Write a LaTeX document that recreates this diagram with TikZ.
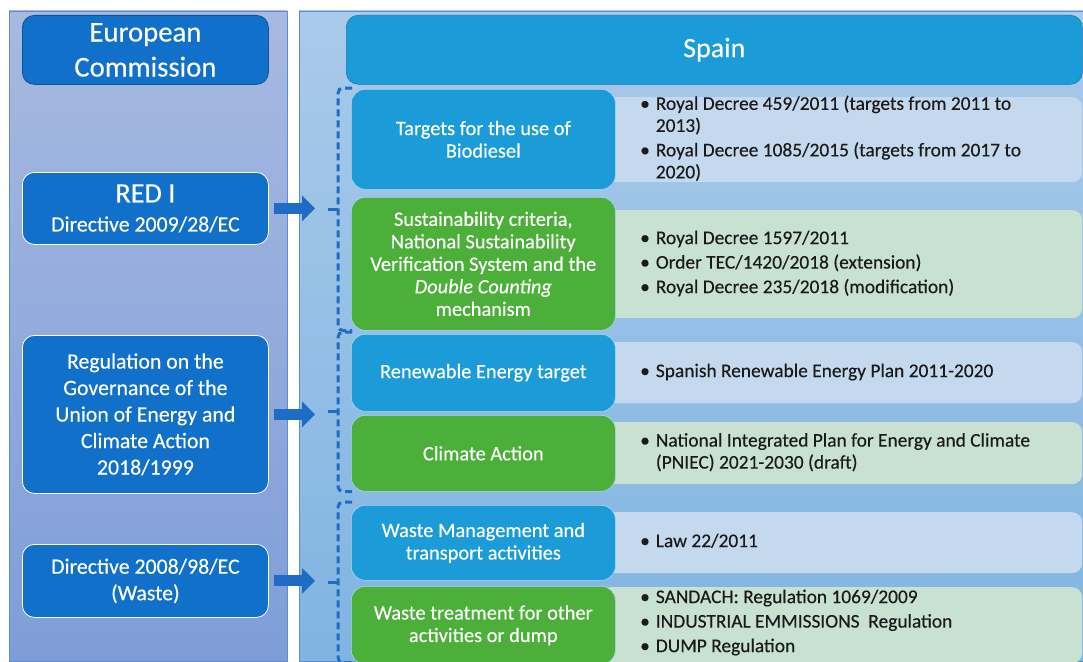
\documentclass[tikz,border=0pt]{standalone}
\usepackage{fontspec}
\setmainfont{Carlito}[FakeBold=0.3]
\usepackage{tikz}
\usetikzlibrary{arrows.meta, positioning, calc}
\definecolor{EUDark}{HTML}{1170C9}
\definecolor{EUPanelTop}{HTML}{A7B9E1}
\definecolor{EUPanelBot}{HTML}{7E9DD8}
\definecolor{EUEdge}{HTML}{5F8BD0}
\definecolor{ESPanelTop}{HTML}{A9CAEA}
\definecolor{ESPanelBot}{HTML}{80B4E1}
\definecolor{ESBlue}{HTML}{1B9BD7}
\definecolor{ESGreen}{HTML}{4CAF3A}
\definecolor{ESLightBlue}{HTML}{C4D9EE}
\definecolor{ESLightGreen}{HTML}{C8E1D1}
\definecolor{LinkBlue}{HTML}{1F6CC5}
\definecolor{TextDark}{HTML}{1A1A1A}

\newcommand{\lawlist}[1]{\begin{tabular}{@{}l@{\hspace{6pt}}l@{}}#1\end{tabular}}

\begin{document}
\begin{tikzpicture}[x=1pt, y=-1pt, every node/.style={inner sep=0pt, align=center}]
      \tikzset{
        eubox/.style={rectangle, rounded corners=12pt, draw=white, line width=0.8pt, fill=EUDark, text=white, minimum width=246pt, font=\fontsize{21.8}{26.5}\selectfont},
        topic/.style={rectangle, rounded corners=14pt, draw=white!60!ESBlue, line width=0.6pt, minimum width=264pt, text=white, font=\fontsize{20.4}{22.5}\selectfont},
        bluetopic/.style={topic, fill=ESBlue},
        greentopic/.style={topic, fill=ESGreen},
        lawbox/.style={rectangle, rounded corners=10pt, minimum width=482pt},
        lawtext/.style={anchor=west, align=left, text=TextDark, font=\fontsize{19.4}{22}\selectfont},
        bracket/.style={rounded corners=5pt, dash pattern=on 7pt off 4pt, line width=3pt, LinkBlue},
        brackettip/.style={line width=3pt, LinkBlue},
        link/.style={line width=11pt, LinkBlue, -{Triangle[width=25pt, length=13pt]}}
      }
      \useasboundingbox (0,0) rectangle (1083,661);
      \fill[white] (0,0) rectangle (1083,661);
      % EU and Spain panels
      \shadedraw[top color=EUPanelTop, bottom color=EUPanelBot, draw=EUEdge] (9,11) rectangle (287,661);
      \shadedraw[top color=ESPanelTop, bottom color=ESPanelBot, draw=EUEdge] (299,11) rectangle (1083,661);

      \node[eubox, draw=EUDark!75!black, minimum height=69pt, font=\fontsize{28.7}{35}\selectfont, anchor=north west] (eu) at (22,15) {European\\Commission};
      \node[eubox, minimum height=72pt, anchor=north west] (red) at (22,172) {{\fontsize{28.2}{30}\selectfont RED I}\\[2.5pt]Directive 2009/28/EC};
      \node[eubox, minimum height=158pt, anchor=north west] (gov) at (22,335) {Regulation on the\\Governance of the\\Union of Energy and\\Climate Action\\2018/1999};
      \node[eubox, minimum height=73pt, anchor=north west] (waste) at (22,544) {Directive 2008/98/EC\\(Waste)};

      \node[rectangle, rounded corners=12pt, fill=ESBlue, draw=ESBlue!80!black, line width=0.6pt, minimum width=736pt, minimum height=69pt, text=white, font=\fontsize{28}{30}\selectfont, anchor=north west] (spain) at (346,15) {Spain};

      % legislation boxes behind the topics
      \node[lawbox, fill=ESLightBlue, minimum height=85pt, anchor=north west] (lawbio) at (600,97) {};
      \node[lawbox, fill=ESLightGreen, minimum height=108pt, anchor=north west] (lawsust) at (600,210) {};
      \node[lawbox, fill=ESLightBlue, minimum height=61pt, anchor=north west] (lawres) at (600,342) {};
      \node[lawbox, fill=ESLightGreen, minimum height=62pt, anchor=north west] (lawclim) at (600,422) {};
      \node[lawbox, fill=ESLightBlue, minimum height=61pt, anchor=north west] (lawwaste) at (600,512) {};
      \node[lawbox, fill=ESLightGreen, minimum height=76pt, anchor=north west] (lawtreat) at (600,587) {};

      \node[bluetopic, minimum height=100pt, anchor=north west] (bio) at (351,89) {Targets for the use of\\Biodiesel};
      \node[greentopic, minimum height=133pt, anchor=north west] (sust) at (351,197) {Sustainability criteria,\\National Sustainability\\Verification System and the\\\textit{Double Counting}\\mechanism};
      \node[bluetopic, minimum height=77pt, anchor=north west] (res) at (351,334) {Renewable Energy target};
      \node[greentopic, minimum height=76pt, anchor=north west] (clim) at (351,415) {Climate Action};
      \node[bluetopic, minimum height=75pt, anchor=north west] (wmgmt) at (351,505) {Waste Management and\\transport activities};
      \node[greentopic, minimum height=78pt, anchor=north west] (wtreat) at (351,586) {Waste treatment for other\\activities or dump};

      \node[lawtext] (lbio) at ($(lawbio.west)+(40,0)$) {\lawlist{\textbullet & Royal Decree 459/2011 (targets from 2011 to\\ & 2013)\\[2.5pt] \textbullet & Royal Decree 1085/2015 (targets from 2017 to\\ & 2020)}};
      \node[lawtext] (lsust) at ($(lawsust.west)+(40,0)$) {\lawlist{\textbullet & Royal Decree 1597/2011\\[2.5pt] \textbullet & Order TEC/1420/2018 (extension)\\[2.5pt] \textbullet & Royal Decree 235/2018 (modification)}};
      \node[lawtext] (lres) at ($(lawres.west)+(40,0)$) {\lawlist{\textbullet & Spanish Renewable Energy Plan 2011-2020}};
      \node[lawtext] (lclim) at ($(lawclim.west)+(40,0)$) {\lawlist{\textbullet & National Integrated Plan for Energy and Climate\\ & (PNIEC) 2021-2030 (draft)}};
      \node[lawtext] (lwaste) at ($(lawwaste.west)+(40,0)$) {\lawlist{\textbullet & Law 22/2011}};
      \node[lawtext] (ltreat) at ($(lawtreat.west)+(40,-2)$) {\lawlist{\textbullet & SANDACH: Regulation 1069/2009\\[2.5pt] \textbullet & INDUSTRIAL EMMISSIONS\ \ Regulation\\[2.5pt] \textbullet & DUMP Regulation}};

      % dashed brackets grouping the topics
      \coordinate (topA) at ($(bio.north west)+(1,-1)$);
      \coordinate (botA) at ($(sust.south west)+(1,0)$);
      \coordinate (topB) at ($(res.north west)+(1,-2)$);
      \coordinate (botB) at ($(clim.south west)+(1,0)$);
      \coordinate (topC) at ($(wmgmt.north west)+(1,-3)$);
      \coordinate (botC) at ($(wtreat.south west)+(1,-2)$);
      \foreach \g in {A,B,C} {
        \draw[bracket] (top\g) -| ($(bot\g)+(-14,0)$) -- (bot\g);
        \draw[brackettip] ($(top\g)!.5!(bot\g)+(-14,0)$) -- ++(-10,0);
      }

      \coordinate (linkend) at (315,0);
      \draw[link] ([xshift=5pt]red.east) -- (red.east -| linkend);
      \draw[link] ([xshift=5pt]gov.east) -- (gov.east -| linkend);
      \draw[link] ([xshift=5pt]waste.east) -- (waste.east -| linkend);
    \end{tikzpicture}
\end{document}
